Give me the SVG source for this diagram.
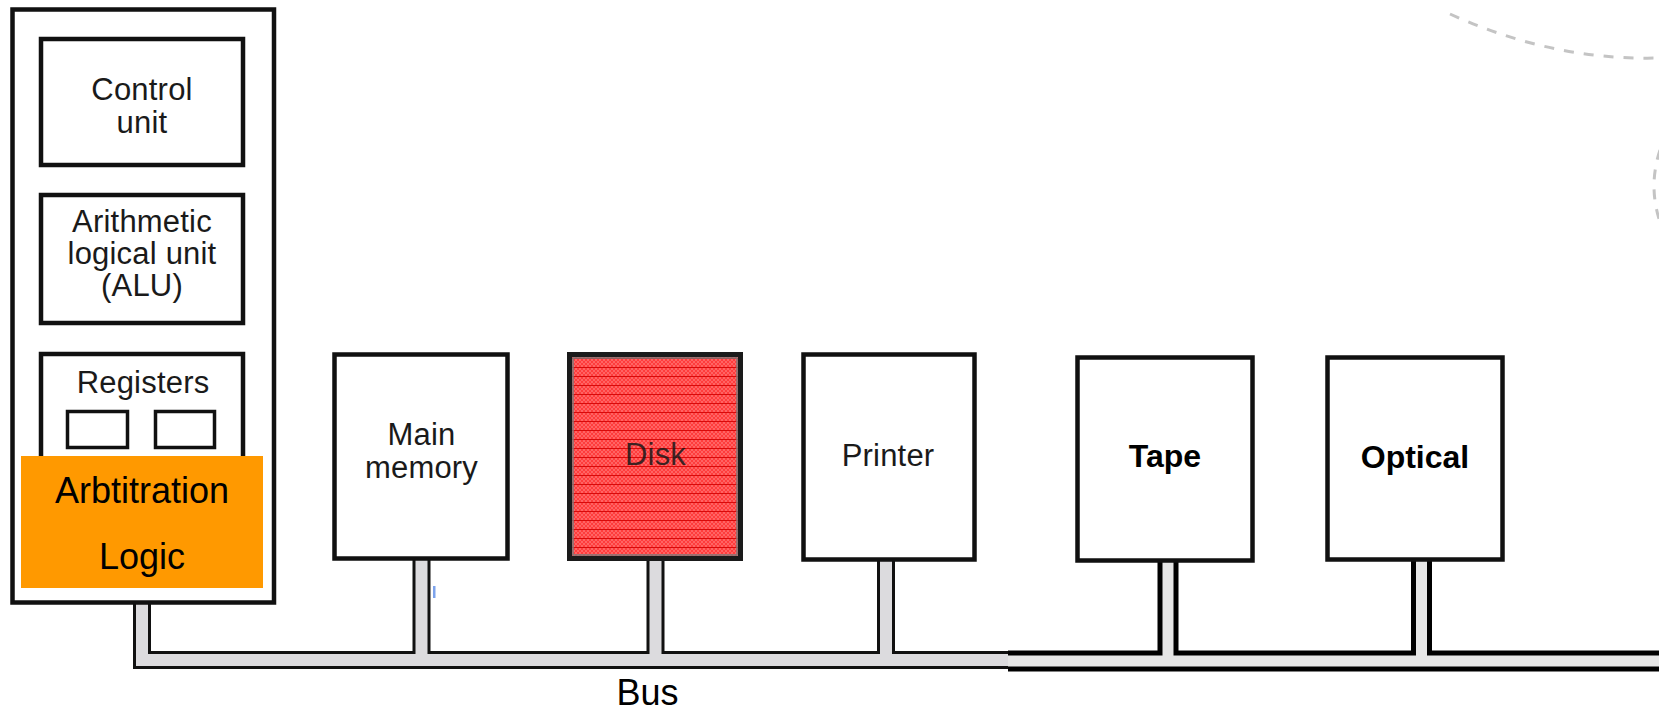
<svg xmlns="http://www.w3.org/2000/svg" width="1659" height="712" viewBox="0 0 1659 712">
  <style>
    .box { fill: #ffffff; stroke: #111111; stroke-width: 4.5; }
    .thin { fill: #ffffff; stroke: #111111; stroke-width: 3.5; }
    .lbl { font-family: "Liberation Sans", Arial, Helvetica, sans-serif; font-size: 31px; letter-spacing: 0.2px; fill: #1a1a1a; text-anchor: middle; }
    .bold { font-family: "Liberation Sans", Arial, Helvetica, sans-serif; font-size: 32px; font-weight: bold; fill: #000000; text-anchor: middle; }
    .big { font-family: "Liberation Sans", Arial, Helvetica, sans-serif; font-size: 36px; fill: #000000; text-anchor: middle; }
    .busOld { fill: none; stroke-linejoin: miter; stroke-linecap: butt; }
    .dash { fill: none; stroke: #c4c4c4; stroke-width: 3; stroke-dasharray: 10 10; }
  </style>
  <defs>
    <pattern id="diskFill" x="575" y="359" width="4" height="9" patternUnits="userSpaceOnUse">
      <rect width="4" height="9" fill="#ff3c3c"/>
      <rect x="0" y="0" width="2" height="2" fill="#ff6464"/>
      <rect x="2" y="2" width="2" height="2" fill="#ff6464"/>
      <rect x="0" y="4" width="2" height="2" fill="#ff6464"/>
      <rect x="2" y="6" width="2" height="2" fill="#ff6464"/>
      <rect x="0" y="8" width="4" height="1.2" fill="#d80a0a"/>
    </pattern>
  </defs>

  <rect width="1659" height="712" fill="#ffffff"/>

  <!-- decorative dashed arcs, top right -->
  <path class="dash" d="M1450 14 C1512 42 1580 60 1659 58"/>
  <path class="dash" d="M1660 150 Q1648 186 1660 222"/>

  <!-- bus and stems -->
  <g id="connectors">
    <!-- left section: black outline then grey channel -->
    <g class="busOld" stroke="#111111" stroke-width="18">
      <path d="M142 603 V660 H1008"/>
      <path d="M421.5 560 V660"/>
      <path d="M655.5 560 V660"/>
      <path d="M886 560 V660"/>
    </g>
    <g class="busOld" stroke="#dcdbde" stroke-width="12">
      <path d="M142 603 V660 H1008"/>
      <path d="M421.5 560 V660"/>
      <path d="M655.5 560 V660"/>
      <path d="M886 560 V660"/>
    </g>
    <!-- right section -->
    <g class="busOld" stroke="#000000" stroke-width="21">
      <path d="M1008 661 H1659"/>
      <path d="M1168 560 V661"/>
      <path d="M1421.5 560 V661"/>
    </g>
    <g class="busOld" stroke="#e6e6e6" stroke-width="11">
      <path d="M1008 661 H1659"/>
      <path d="M1168 560 V661"/>
      <path d="M1421.5 560 V661"/>
    </g>
    <rect x="433" y="586" width="2.5" height="12" fill="#7da3ec"/>
    <text class="big" x="647.5" y="705" font-size="38">Bus</text>
  </g>

  <!-- processor -->
  <g id="cpu">
    <rect class="box" x="12.5" y="9.5" width="261.5" height="593" stroke-width="4"/>
  </g>
  <g id="control-unit">
    <rect class="box" x="41" y="39" width="202" height="126" stroke-width="4"/>
    <text class="lbl" x="142" y="100">Control</text>
    <text class="lbl" x="142" y="133">unit</text>
  </g>
  <g id="alu">
    <rect class="box" x="41" y="195" width="202" height="128" stroke-width="4"/>
    <text class="lbl" x="142" y="232">Arithmetic</text>
    <text class="lbl" x="142" y="264">logical unit</text>
    <text class="lbl" x="142" y="296">(ALU)</text>
  </g>
  <g id="registers">
    <rect class="box" x="41" y="354" width="202" height="130" stroke-width="4"/>
    <text class="lbl" x="143" y="393">Registers</text>
    <rect class="thin" x="67.5" y="411.5" width="60" height="36"/>
    <rect class="thin" x="155.5" y="411.5" width="59" height="36"/>
  </g>
  <g id="arbitration">
    <rect x="21" y="456" width="242" height="132" fill="#ff9900"/>
    <text class="big" x="142" y="503">Arbtitration</text>
    <text class="big" x="142" y="569">Logic</text>
  </g>

  <!-- devices -->
  <g id="main-memory">
    <rect class="box" x="334.5" y="354.5" width="173" height="204"/>
    <text class="lbl" x="421.5" y="445">Main</text>
    <text class="lbl" x="421.5" y="478">memory</text>
  </g>
  <g id="disk">
    <rect x="569.5" y="354.5" width="171" height="204" fill="url(#diskFill)" stroke="#1a1a1a" stroke-width="5"/>
    <rect x="573" y="358" width="164" height="197" fill="none" stroke="#7a7a7a" stroke-width="1.5"/>
    <text class="lbl" x="655.5" y="465" fill="#b8121a" fill-opacity="0.85">Disk</text>
  </g>
  <g id="printer">
    <rect class="box" x="803.5" y="354.5" width="171" height="205"/>
    <text class="lbl" x="888" y="466">Printer</text>
  </g>
  <g id="tape">
    <rect class="box" x="1077.5" y="357.5" width="175" height="203" stroke="#000000"/>
    <text class="bold" x="1165" y="467">Tape</text>
  </g>
  <g id="optical">
    <rect class="box" x="1327.5" y="357.5" width="175" height="202" stroke="#000000"/>
    <text class="bold" x="1415" y="468">Optical</text>
  </g>
</svg>
